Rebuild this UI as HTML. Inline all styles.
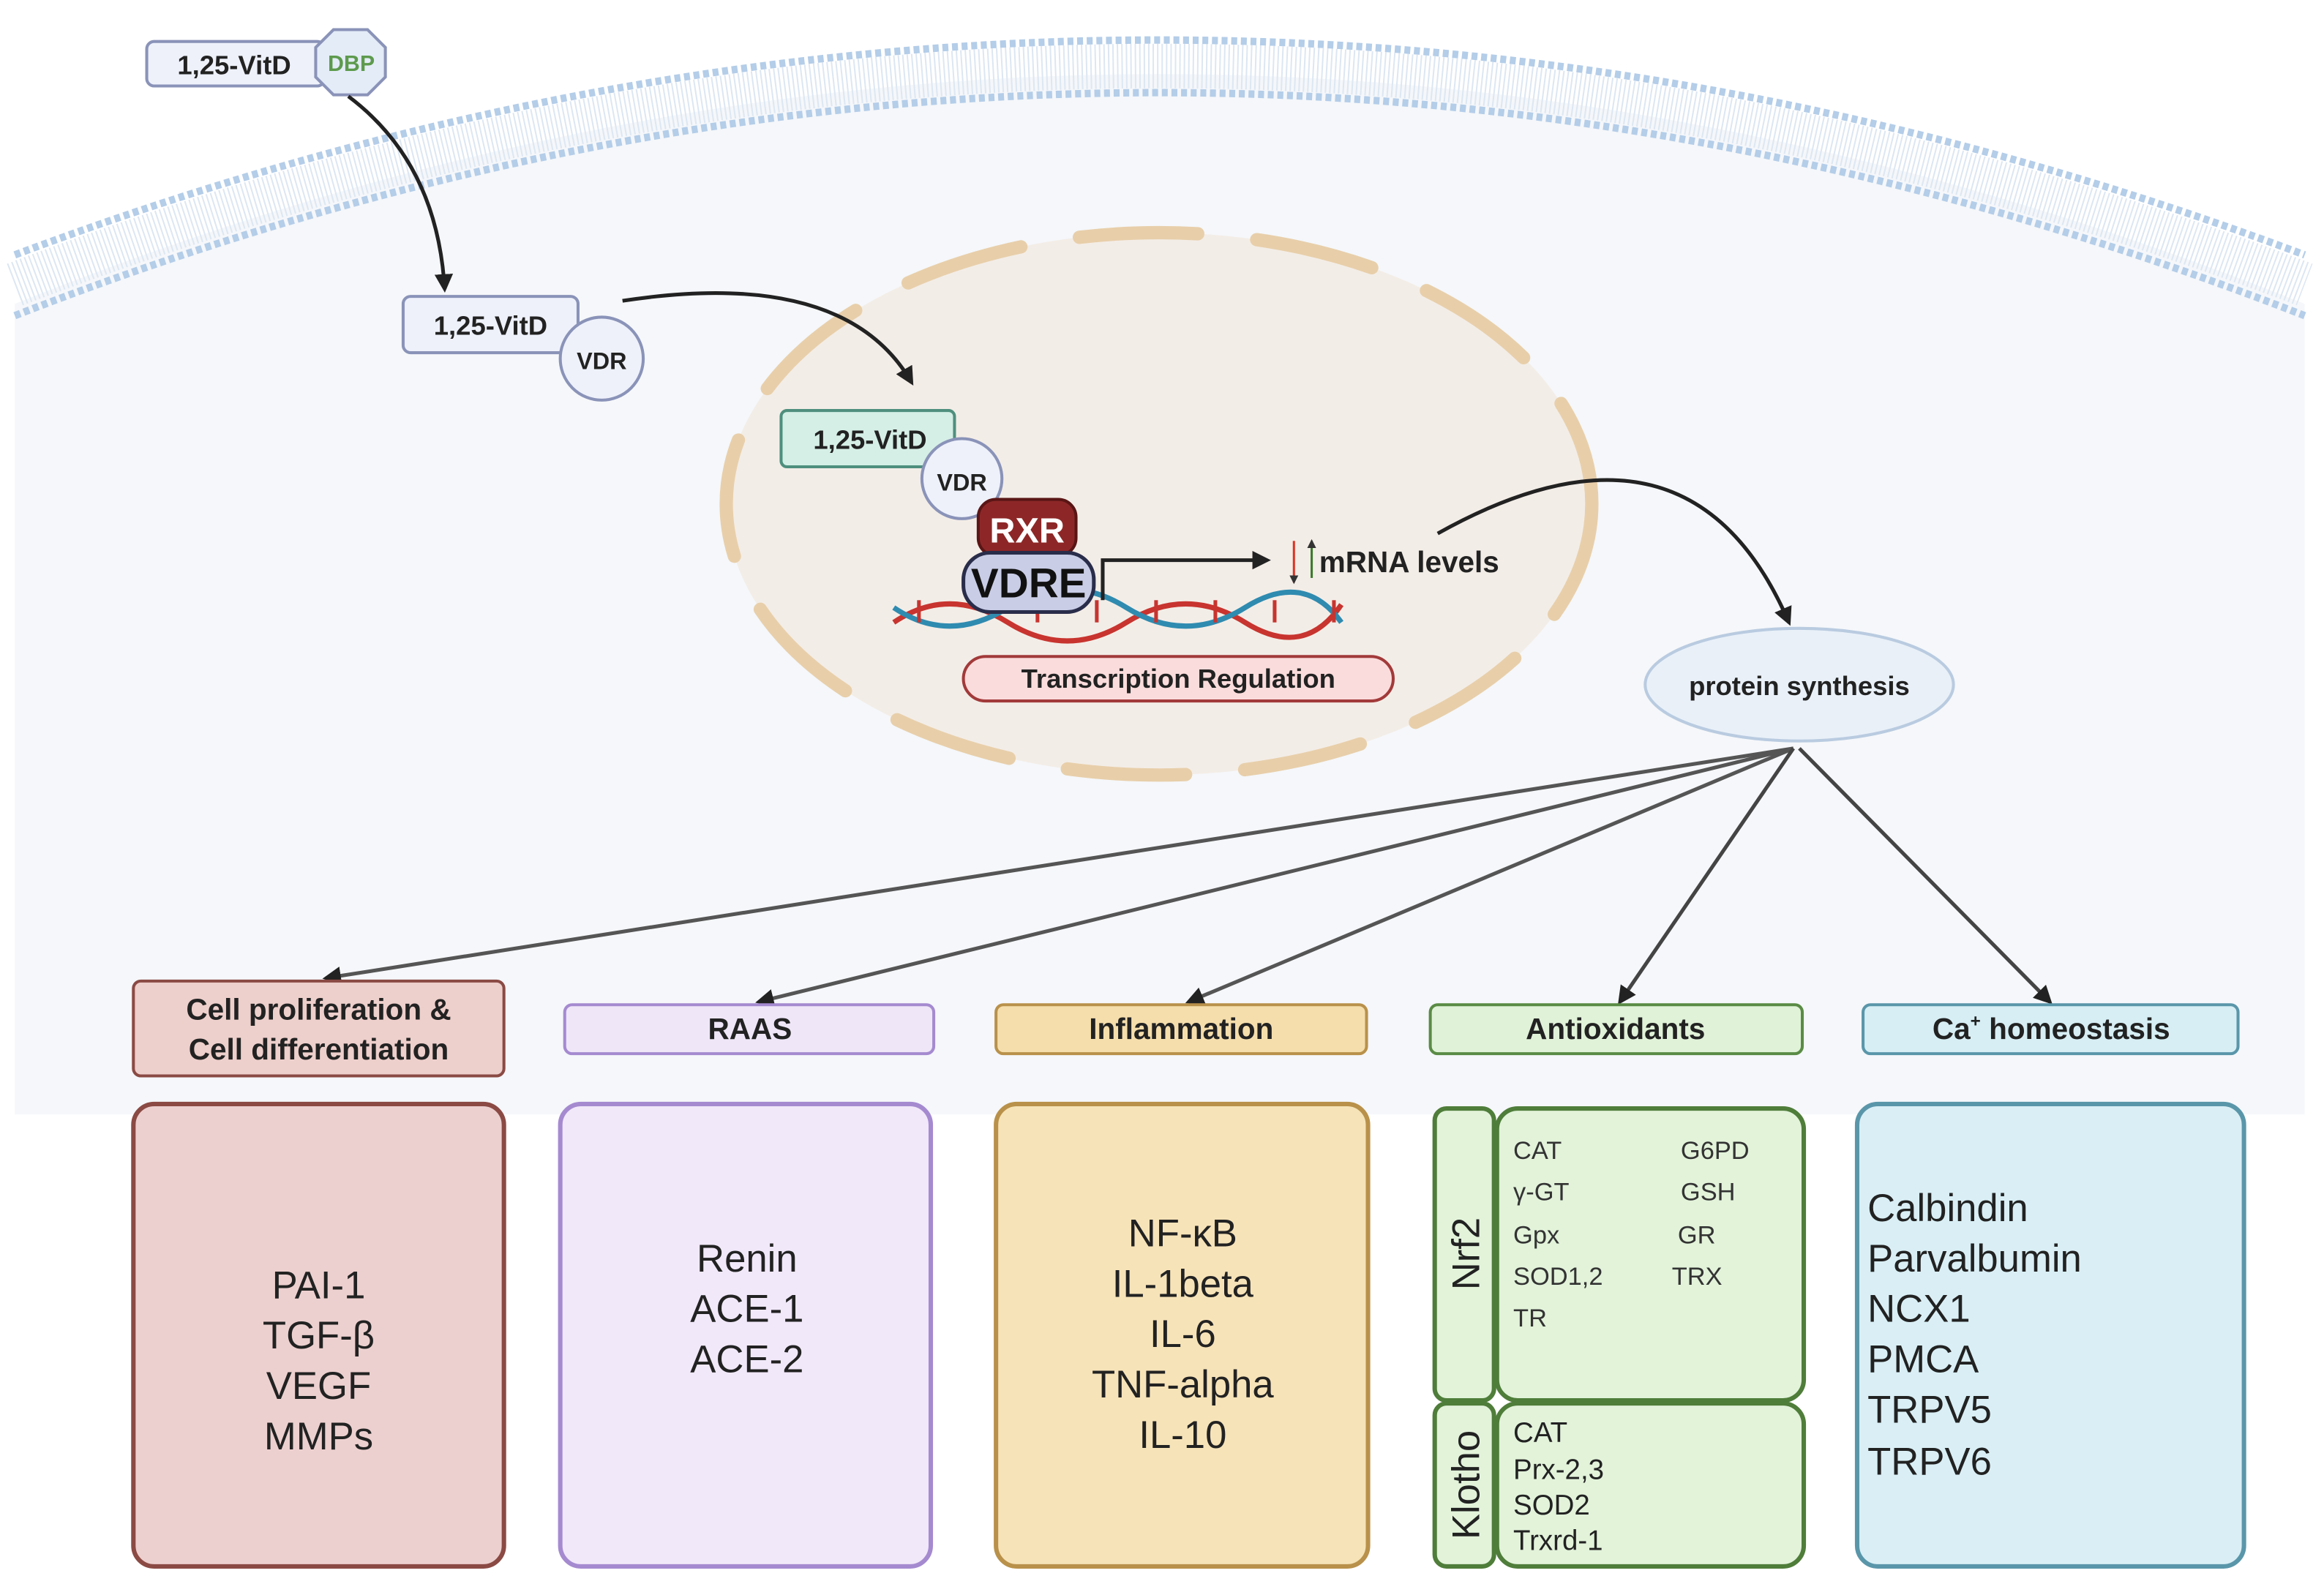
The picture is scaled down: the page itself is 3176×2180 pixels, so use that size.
<!DOCTYPE html>
<html><head><meta charset="utf-8"><style>
html,body{margin:0;padding:0;background:#fff}
svg{display:block}
text{font-family:"Liberation Sans",sans-serif}
</style></head><body>
<svg width="3176" height="2180" viewBox="0 0 1568 1076.3" preserveAspectRatio="none" xmlns="http://www.w3.org/2000/svg">
<defs>
<marker id="ah" viewBox="0 0 10 10" refX="8" refY="5" markerWidth="5" markerHeight="5" orient="auto"><path d="M0,0 L10,5 L0,10 z" fill="#222"/></marker>
<marker id="ah2" viewBox="0 0 10 10" refX="8" refY="5" markerWidth="4" markerHeight="4" orient="auto"><path d="M0,0 L10,5 L0,10 z" fill="#333"/></marker>
</defs>
<rect width="1568" height="1076.3" fill="#fff"/>
<!-- cell background -->
<path d="M10,205 Q782,-105 1555,205 L1555,752 L10,752 Z" fill="#f5f7fa"/>
<!-- membrane -->
<path d="M10,192 Q782,-103 1555,192" fill="none" stroke="#dde7f2" stroke-width="30" stroke-dasharray="1 2"/>
<path d="M10,172 Q782,-118 1555,172" fill="none" stroke="#b4cde8" stroke-width="5" stroke-dasharray="4 2.5"/>
<path d="M10,213 Q782,-88 1555,213" fill="none" stroke="#b4cde8" stroke-width="5" stroke-dasharray="4 2.5"/>
<!-- nucleus -->
<ellipse cx="782" cy="340" rx="292" ry="183" fill="#f3ede7" stroke="#e8cfaa" stroke-width="9" stroke-linecap="round" stroke-dasharray="80 40"/>
<!-- VitD DBP -->
<rect x="99" y="28" width="120" height="30" rx="5" fill="#eef1fa" stroke="#8a93b8" stroke-width="2"/>
<text x="158" y="50" font-size="18" font-weight="bold" text-anchor="middle" fill="#222">1,25-VitD</text>
<polygon points="225,20 248,20 260,32 260,52 248,64 225,64 213,52 213,32" fill="#e3ecf7" stroke="#8a93b8" stroke-width="2"/>
<text x="237" y="48" font-size="15" font-weight="bold" text-anchor="middle" fill="#5d9a4d">DBP</text>
<path d="M235,65 Q295,110 300,195" fill="none" stroke="#222" stroke-width="2.5" marker-end="url(#ah)"/>
<!-- VitD VDR -->
<rect x="272" y="200" width="118" height="38" rx="5" fill="#eef1fa" stroke="#8a93b8" stroke-width="2"/>
<text x="331" y="226" font-size="18" font-weight="bold" text-anchor="middle" fill="#222">1,25-VitD</text>
<circle cx="406" cy="242" r="28" fill="#eef1fa" stroke="#8a93b8" stroke-width="2"/>
<text x="406" y="249" font-size="16" font-weight="bold" text-anchor="middle" fill="#222">VDR</text>
<path d="M420,203 Q570,180 615,258" fill="none" stroke="#222" stroke-width="2.5" marker-end="url(#ah)"/>
<!-- inside nucleus -->
<rect x="527" y="277" width="117" height="38" rx="4" fill="#d5efe6" stroke="#4f8f7d" stroke-width="2"/>
<text x="587" y="303" font-size="18" font-weight="bold" text-anchor="middle" fill="#222">1,25-VitD</text>
<circle cx="649" cy="323" r="27" fill="#eef1fa" stroke="#8a93b8" stroke-width="2"/>
<text x="649" y="331" font-size="16" font-weight="bold" text-anchor="middle" fill="#222">VDR</text>
<rect x="660" y="337" width="66" height="38" rx="12" fill="#8d2727" stroke="#5a1515" stroke-width="2"/>
<text x="693" y="366" font-size="24" font-weight="bold" text-anchor="middle" fill="#fff">RXR</text>
<!-- DNA -->
<path d="M603,420 Q640,395 680,420 T760,420 T840,420 T905,408" fill="none" stroke="#c8342f" stroke-width="3.5"/>
<path d="M603,410 Q640,435 680,410 T760,410 T840,410 T905,420" fill="none" stroke="#2f8bb0" stroke-width="3.5"/>
<g stroke="#c8342f" stroke-width="2.5"><line x1="620" y1="405" x2="620" y2="420"/><line x1="700" y1="405" x2="700" y2="420"/><line x1="740" y1="405" x2="740" y2="420"/><line x1="780" y1="405" x2="780" y2="420"/><line x1="820" y1="405" x2="820" y2="420"/><line x1="860" y1="405" x2="860" y2="420"/><line x1="900" y1="405" x2="900" y2="420"/></g>
<rect x="650" y="373" width="88" height="40" rx="18" fill="#c9cde6" stroke="#2a2d4a" stroke-width="2.5"/>
<text x="694" y="403" font-size="28" font-weight="bold" text-anchor="middle" fill="#111">VDRE</text>
<path d="M744,405 L744,378 L855,378" fill="none" stroke="#222" stroke-width="2.5" marker-end="url(#ah)"/>
<line x1="873" y1="365" x2="873" y2="393" stroke="#d32" stroke-width="1.5" marker-end="url(#ah2)"/>
<line x1="885" y1="390" x2="885" y2="365" stroke="#3a7a2a" stroke-width="1.5" marker-end="url(#ah2)"/>
<text x="890" y="386" font-size="20" font-weight="bold" fill="#222">mRNA levels</text>
<rect x="650" y="443" width="290" height="30" rx="15" fill="#fbdcdc" stroke="#a23a3a" stroke-width="2"/>
<text x="795" y="464" font-size="18" font-weight="bold" text-anchor="middle" fill="#222">Transcription Regulation</text>
<!-- to protein synthesis -->
<path d="M970,360 Q1140,265 1207,420" fill="none" stroke="#222" stroke-width="2.5" marker-end="url(#ah)"/>
<ellipse cx="1214" cy="462" rx="104" ry="38" fill="#e9f0f8" stroke="#b9cbe0" stroke-width="2"/>
<text x="1214" y="469" font-size="18" font-weight="bold" text-anchor="middle" fill="#222">protein synthesis</text>
<!-- fan arrows -->
<g fill="none" stroke-width="2.5" marker-end="url(#ah)">
<line x1="1210" y1="505" x2="220" y2="660" stroke="#555"/>
<line x1="1210" y1="505" x2="512" y2="676" stroke="#555"/>
<line x1="1210" y1="505" x2="802" y2="676" stroke="#555"/>
<line x1="1210" y1="505" x2="1093" y2="676" stroke="#444"/>
<line x1="1214" y1="505" x2="1383" y2="676" stroke="#444"/>
</g>
<!-- headers -->
<rect x="90" y="662" width="250" height="64" rx="5" fill="#edcfcb" stroke="#8b4a44" stroke-width="2"/>
<text x="215" y="688" font-size="20" font-weight="bold" text-anchor="middle" fill="#222">Cell proliferation &amp;</text>
<text x="215" y="715" font-size="20" font-weight="bold" text-anchor="middle" fill="#222">Cell differentiation</text>
<rect x="381" y="678" width="249" height="33" rx="5" fill="#efe6f8" stroke="#a58ad0" stroke-width="2"/>
<text x="506" y="701" font-size="20" font-weight="bold" text-anchor="middle" fill="#222">RAAS</text>
<rect x="672" y="678" width="250" height="33" rx="5" fill="#f5deac" stroke="#b9914a" stroke-width="2"/>
<text x="797" y="701" font-size="20" font-weight="bold" text-anchor="middle" fill="#222">Inflammation</text>
<rect x="965" y="678" width="251" height="33" rx="5" fill="#e0f2d8" stroke="#5a8b45" stroke-width="2"/>
<text x="1090" y="701" font-size="20" font-weight="bold" text-anchor="middle" fill="#222">Antioxidants</text>
<rect x="1257" y="678" width="253" height="33" rx="5" fill="#d6eef4" stroke="#5a96aa" stroke-width="2"/>
<text x="1384" y="701" font-size="20" font-weight="bold" text-anchor="middle" fill="#222">Ca<tspan font-size="12" dy="-8">+</tspan><tspan dy="8"> homeostasis</tspan></text>
<!-- boxes -->
<rect x="90" y="745" width="250" height="312" rx="14" fill="#ecd0cf" stroke="#8b4a44" stroke-width="3"/>
<g font-size="26" text-anchor="middle" fill="#222"><text x="215" y="876">PAI-1</text><text x="215" y="910">TGF-β</text><text x="215" y="944">VEGF</text><text x="215" y="978">MMPs</text></g>
<rect x="378" y="745" width="250" height="312" rx="14" fill="#f1e8f9" stroke="#a58ad0" stroke-width="3"/>
<g font-size="26" text-anchor="middle" fill="#222"><text x="504" y="858">Renin</text><text x="504" y="892">ACE-1</text><text x="504" y="926">ACE-2</text></g>
<rect x="672" y="745" width="251" height="312" rx="14" fill="#f6e3b8" stroke="#b9914a" stroke-width="3"/>
<g font-size="26" text-anchor="middle" fill="#222"><text x="798" y="841">NF-κB</text><text x="798" y="875">IL-1beta</text><text x="798" y="909">IL-6</text><text x="798" y="943">TNF-alpha</text><text x="798" y="977">IL-10</text></g>
<!-- antioxidants -->
<g fill="#e2f3da" stroke="#4f7d3a" stroke-width="3">
<rect x="968" y="748" width="40" height="197" rx="8"/>
<rect x="1010" y="748" width="207" height="197" rx="14"/>
<rect x="968" y="947" width="40" height="110" rx="8"/>
<rect x="1010" y="947" width="207" height="110" rx="14"/>
</g>
<text transform="translate(998,846) rotate(-90)" font-size="26" text-anchor="middle" fill="#222">Nrf2</text>
<text transform="translate(998,1002) rotate(-90)" font-size="26" text-anchor="middle" fill="#222">Klotho</text>
<g font-size="17" fill="#333"><text x="1021" y="782">CAT</text><text x="1021" y="810">γ-GT</text><text x="1021" y="839">Gpx</text><text x="1021" y="867">SOD1,2</text><text x="1021" y="895">TR</text>
<text x="1134" y="782">G6PD</text><text x="1134" y="810">GSH</text><text x="1132" y="839">GR</text><text x="1128" y="867">TRX</text></g>
<g font-size="19" fill="#222"><text x="1021" y="973">CAT</text><text x="1021" y="998">Prx-2,3</text><text x="1021" y="1022">SOD2</text><text x="1021" y="1046">Trxrd-1</text></g>
<rect x="1253" y="745" width="261" height="312" rx="14" fill="#d9eff5" stroke="#5a96aa" stroke-width="3"/>
<g font-size="26" fill="#222"><text x="1260" y="824">Calbindin</text><text x="1260" y="858">Parvalbumin</text><text x="1260" y="892">NCX1</text><text x="1260" y="926">PMCA</text><text x="1260" y="960">TRPV5</text><text x="1260" y="995">TRPV6</text></g>
</svg>
</body></html>
